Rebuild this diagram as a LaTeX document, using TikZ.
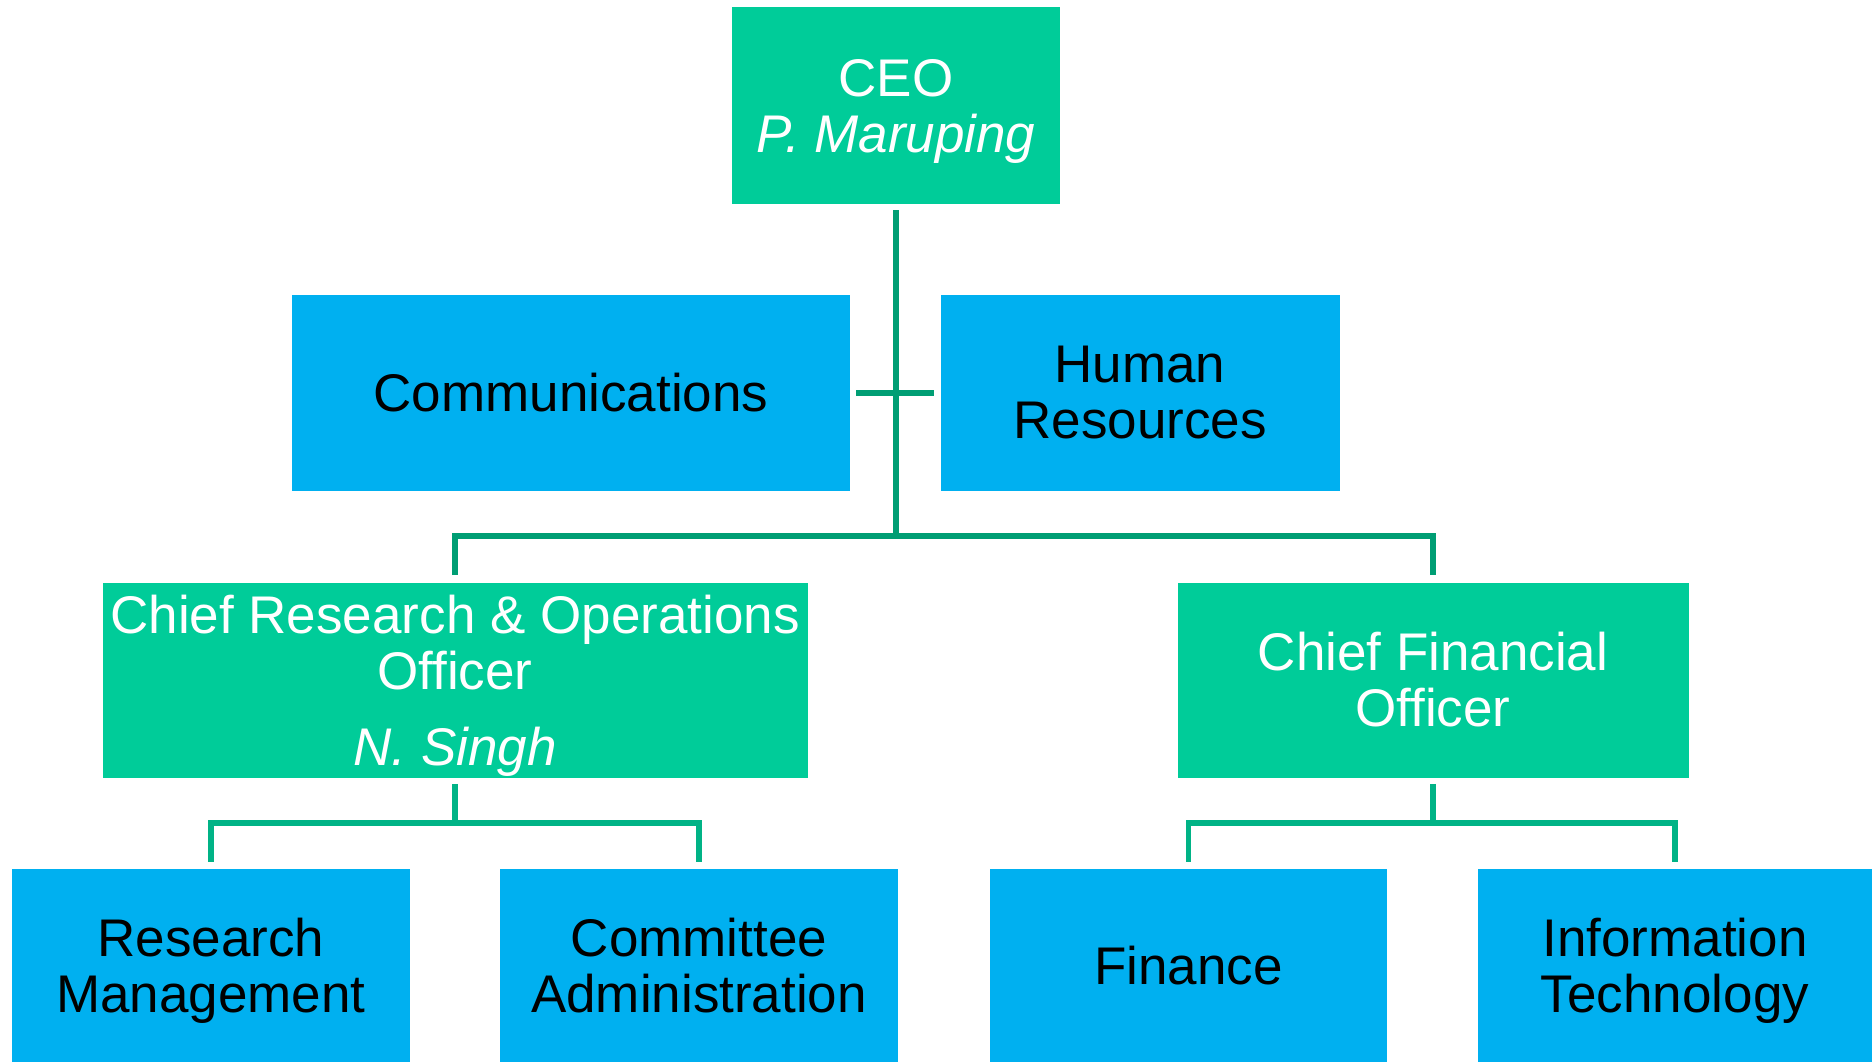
\documentclass[tikz,border=0pt]{standalone}
\usepackage{fontspec}
\setmainfont{Liberation Sans}
\definecolor{boxgreen}{HTML}{00CC99}
\definecolor{boxblue}{HTML}{00B0F0}
\definecolor{topline}{HTML}{009E74}
\definecolor{lowline}{HTML}{00B386}
\newcommand\nodesc[1]{\raisebox{0pt}[\height][0pt]{#1}}
\begin{document}
\begin{tikzpicture}[x=0.5pt,y=-0.5pt,
  lbl/.style={inner sep=0pt,align=center,font=\fontsize{26.5}{28}\selectfont},
  mgr/.style={lbl,fill=boxgreen,text=white},
  dept/.style={lbl,fill=boxblue,text=black},
  conn/.style={line width=2.6pt},
]
\useasboundingbox (0,0) rectangle (1872,1062);
% boxes
\node[mgr,minimum width=164pt,minimum height=98.5pt] (ceo) at (896,105.5) {CEO\\\nodesc{\textit{P. Maruping}}};
\node[dept,minimum width=279pt,minimum height=98pt] (comm) at (571,393) {Communications};
\node[dept,minimum width=199.5pt,minimum height=98pt] (hr) at (1140,393) {Human\\Resources};
\node[mgr,minimum width=352.5pt,minimum height=97.5pt] (croo) at (455,680) {Chief Research \& Operations\\Officer\\[10pt]\nodesc{\textit{N. Singh}}};
\node[mgr,minimum width=255.5pt,minimum height=97.5pt] (cfo) at (1433,680) {Chief Financial\\Officer};
\node[dept,minimum width=199pt,minimum height=96.5pt] (rm) at (211,965.5) {Research\\\nodesc{Management}};
\node[dept,minimum width=199pt,minimum height=96.5pt] (ca) at (699,965.5) {Committee\\Administration};
\node[dept,minimum width=198.5pt,minimum height=96.5pt] (fin) at (1188.5,965.5) {Finance};
\node[dept,minimum width=197pt,minimum height=96.5pt] (it) at (1675,965.5) {Information\\\nodesc{Technology}};
% connectors
\coordinate (bus) at (896,536);
\coordinate (b1) at (455,823);
\coordinate (b2) at (1433,823);
\draw[conn,topline] ([yshift=-3pt]ceo.south) -- (bus);
\draw[conn,topline] ([xshift=3pt]comm.east) -- ([xshift=-3pt]hr.west);
\draw[conn,topline] ([yshift=3.5pt]croo.north) |- (bus) -| ([yshift=3.5pt]cfo.north);
\draw[conn,lowline] ([yshift=-3pt]croo.south) -- (b1);
\draw[conn,lowline] ([yshift=3.5pt]rm.north) |- (b1) -| ([yshift=3.5pt]ca.north);
\draw[conn,lowline] ([yshift=-3pt]cfo.south) -- (b2);
\draw[conn,lowline] ([yshift=3.5pt]fin.north) |- (b2) -| ([yshift=3.5pt]it.north);
\end{tikzpicture}
\end{document}
